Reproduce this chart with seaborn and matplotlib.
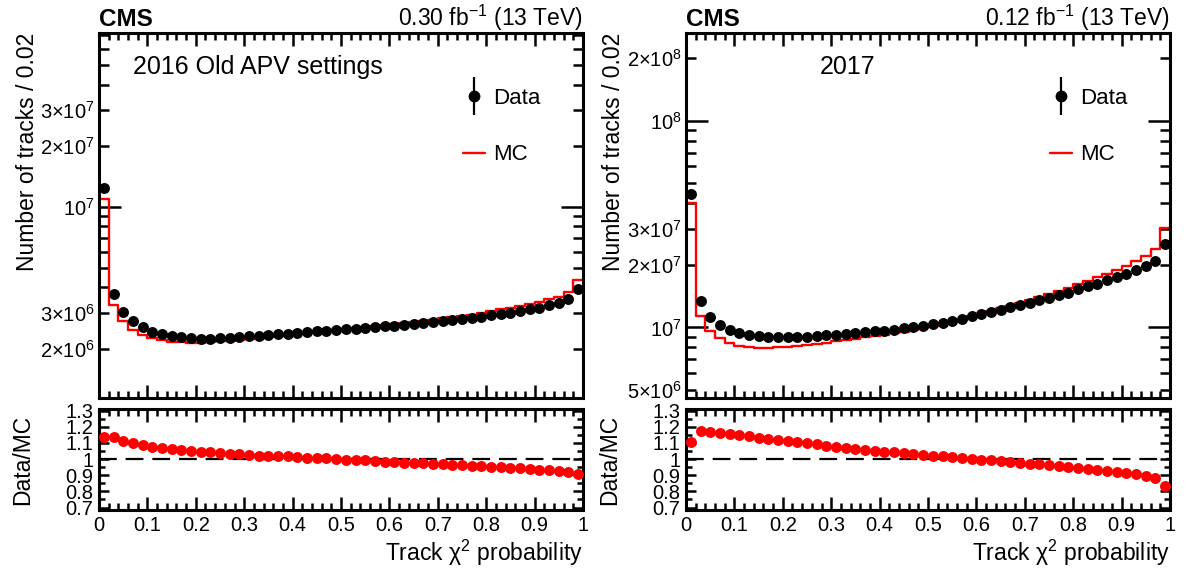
import numpy as np
import pandas as pd
import matplotlib
matplotlib.use("Agg")
import matplotlib.pyplot as plt
import seaborn as sns
from matplotlib.ticker import FixedLocator, FuncFormatter
from matplotlib.container import ErrorbarContainer
from matplotlib.legend_handler import HandlerErrorbar
from matplotlib.lines import Line2D

# 50 bins of width 0.02 in track chi2 probability
n_bins = 50
bin_width = 0.02
bin_edges = np.linspace(0.0, 1.0, n_bins + 1)
bin_centers = 0.5 * (bin_edges[:-1] + bin_edges[1:])

# 2016 old APV settings, tracks per bin (in millions)
data_2016 = [
    12.4, 3.72, 3.02, 2.72, 2.54, 2.42, 2.35, 2.30, 2.27, 2.25,
    2.24, 2.24, 2.25, 2.26, 2.28, 2.30, 2.31, 2.33, 2.35, 2.37,
    2.39, 2.41, 2.43, 2.45, 2.47, 2.49, 2.51, 2.53, 2.55, 2.57,
    2.59, 2.61, 2.64, 2.67, 2.70, 2.73, 2.76, 2.79, 2.82, 2.86,
    2.92, 2.96, 3.01, 3.06, 3.12, 3.18, 3.26, 3.35, 3.50, 3.93,
]
mc_2016 = [
    10.93, 3.28, 2.72, 2.48, 2.34, 2.25, 2.20, 2.16, 2.15, 2.14,
    2.14, 2.15, 2.17, 2.19, 2.21, 2.24, 2.26, 2.28, 2.31, 2.33,
    2.36, 2.39, 2.42, 2.44, 2.47, 2.50, 2.53, 2.55, 2.58, 2.61,
    2.64, 2.67, 2.70, 2.74, 2.78, 2.82, 2.86, 2.90, 2.94, 2.99,
    3.07, 3.12, 3.18, 3.24, 3.32, 3.40, 3.50, 3.61, 3.80, 4.34,
]

# 2017, tracks per bin (in units of 1e7)
data_2017 = [
    4.42, 1.34, 1.127, 1.028, 0.973, 0.937, 0.920, 0.905, 0.898, 0.896,
    0.897, 0.899, 0.903, 0.909, 0.916, 0.924, 0.932, 0.940, 0.948, 0.956,
    0.965, 0.976, 0.990, 1.005, 1.021, 1.038, 1.056, 1.075, 1.095, 1.137,
    1.160, 1.19, 1.22, 1.25, 1.285, 1.32, 1.355, 1.39, 1.43, 1.475,
    1.53, 1.58, 1.63, 1.69, 1.75, 1.82, 1.90, 1.99, 2.10, 2.53,
]
mc_2017 = [
    3.99, 1.139, 0.965, 0.885, 0.843, 0.817, 0.807, 0.799, 0.797, 0.801,
    0.807, 0.814, 0.822, 0.833, 0.845, 0.858, 0.870, 0.883, 0.895, 0.908,
    0.922, 0.937, 0.955, 0.974, 0.994, 1.016, 1.038, 1.062, 1.087, 1.135,
    1.163, 1.200, 1.236, 1.273, 1.315, 1.358, 1.401, 1.445, 1.494, 1.549,
    1.617, 1.681, 1.745, 1.821, 1.898, 1.989, 2.095, 2.218, 2.386, 3.03,
]

x_ticks = [0.0, 0.1, 0.2, 0.3, 0.4, 0.5, 0.6, 0.7, 0.8, 0.9, 1.0]
ratio_ticks = [0.7, 0.8, 0.9, 1.0, 1.1, 1.2, 1.3]

panels = [
    {
        "data": np.array(data_2016) * 1e6,
        "mc": np.array(mc_2016) * 1e6,
        "ylim": (1.14e6, 7.2e7),
        "major": [1e7],
        "labelled": [2e6, 3e6, 2e7, 3e7],
        "region": "2016 Old APV settings",
        "region_x": 0.07,
        "lumi": "0.30 fb$^{-1}$ (13 TeV)",
        "left": 99,
    },
    {
        "data": np.array(data_2017) * 1e7,
        "mc": np.array(mc_2017) * 1e7,
        "ylim": (4.56e6, 2.65e8),
        "major": [1e7, 1e8],
        "labelled": [5e6, 2e7, 3e7, 2e8],
        "region": "2017",
        "region_x": 0.277,
        "lumi": "0.12 fb$^{-1}$ (13 TeV)",
        "left": 686,
    },
]

sns.set_style("ticks")
plt.rcParams["font.family"] = ["Liberation Sans", "DejaVu Sans"]
plt.rcParams["mathtext.fontset"] = "custom"
plt.rcParams["mathtext.rm"] = "Liberation Sans"
plt.rcParams["mathtext.it"] = "Liberation Sans:italic"
plt.rcParams["mathtext.bf"] = "Liberation Sans:bold"
plt.rcParams["text.color"] = "black"
plt.rcParams["axes.labelcolor"] = "black"
plt.rcParams["xtick.color"] = "black"
plt.rcParams["ytick.color"] = "black"

W, H = 1186, 574
TICK_FS = 14.5


def log_label(v, pos, labelled):
    e = int(np.floor(np.log10(v) + 1e-9))
    m = v / 10 ** e
    if abs(m - 1) < 1e-6:
        return "10$^{%d}$" % e
    if any(abs(v - l) / l < 1e-6 for l in labelled):
        return "%d×10$^{%d}$" % (round(m), e)
    return ""


def style_axes(a):
    a.set_xlim(0, 1)
    a.xaxis.set_major_locator(FixedLocator(x_ticks))
    a.xaxis.set_minor_locator(FixedLocator(list(bin_edges)))
    a.xaxis.set_major_formatter(FuncFormatter(lambda v, pos: "%g" % round(v, 2)))
    a.tick_params(which="both", direction="in", top=True, right=True,
                  width=1.8, labelsize=TICK_FS, color="black", labelcolor="black")
    a.tick_params(axis="x", which="major", length=9.5, pad=4)
    a.tick_params(axis="x", which="minor", length=5)
    for s in a.spines.values():
        s.set_linewidth(2.2)
        s.set_color("black")


fig = plt.figure(figsize=(W / 100, H / 100), dpi=100)

for p in panels:
    left = p["left"] / W
    width = 484 / W
    ax = fig.add_axes([left, 1 - 398 / H, width, 365 / H])
    axr = fig.add_axes([left, 1 - 510 / H, width, 101 / H])

    df = pd.DataFrame({"x": bin_centers, "data": p["data"], "mc": p["mc"]})
    df["ratio"] = df["data"] / df["mc"]

    ax.set_yscale("log")
    sns.histplot(data=df, x="x", weights="mc", binwidth=bin_width,
                 binrange=(0.0, 1.0), element="step", fill=False,
                 color="red", linewidth=1.7, ax=ax)
    sns.scatterplot(data=df, x="x", y="data", color="black", s=62,
                    linewidth=0, zorder=3, ax=ax)
    style_axes(ax)
    ax.set_ylim(*p["ylim"])
    ax.yaxis.set_major_locator(FixedLocator(p["major"]))
    minors = [m * 10.0 ** e for e in range(6, 9) for m in range(2, 10)]
    ax.yaxis.set_minor_locator(FixedLocator(minors))
    lab = p["labelled"]
    ax.yaxis.set_major_formatter(FuncFormatter(lambda v, pos, lab=lab: log_label(v, pos, lab)))
    ax.yaxis.set_minor_formatter(FuncFormatter(lambda v, pos, lab=lab: log_label(v, pos, lab)))
    ax.tick_params(axis="y", which="major", length=16, pad=3)
    ax.tick_params(axis="y", which="minor", length=7.5, pad=3)
    ax.tick_params(axis="x", labelbottom=False)
    ax.set_xlabel("")
    ax.set_ylabel("Number of tracks / 0.02", fontsize=16.5, loc="top")
    ax.yaxis.set_label_coords(-0.125, 1.0)

    ax.text(0, 1.019, "CMS", transform=ax.transAxes, fontsize=17.5,
            fontweight="bold", va="baseline", ha="left")
    ax.text(1, 1.019, p["lumi"], transform=ax.transAxes, fontsize=16.5,
            va="baseline", ha="right")
    ax.text(p["region_x"], 0.888, p["region"], transform=ax.transAxes,
            fontsize=18, va="baseline", ha="left")

    eb = ax.errorbar([np.nan], [np.nan], yerr=[1.0], fmt="o", color="black",
                     ms=7.5, elinewidth=1.6, capsize=0)
    mc_line = Line2D([], [], color="red", lw=1.7)
    ax.legend(handles=[eb, mc_line], labels=["Data", "MC"],
              handler_map={ErrorbarContainer: HandlerErrorbar(xerr_size=0.85)},
              frameon=False, loc="upper left", bbox_to_anchor=(0.752, 0.85),
              labelspacing=1.6, handlelength=1.0, handletextpad=0.35,
              borderpad=0, borderaxespad=0, fontsize=16)

    # ratio panel
    axr.axhline(1.0, color="black", lw=1.6, ls=(0, (8, 4)), zorder=1)
    sns.scatterplot(data=df, x="x", y="ratio", color="red", s=62,
                    linewidth=0, zorder=3, ax=axr)
    style_axes(axr)
    axr.set_ylim(0.685, 1.31)
    axr.yaxis.set_major_locator(FixedLocator(ratio_ticks))
    axr.yaxis.set_minor_locator(FixedLocator([0.75, 0.85, 0.95, 1.05, 1.15, 1.25]))
    axr.yaxis.set_major_formatter(FuncFormatter(lambda v, pos: "%g" % round(v, 2)))
    axr.tick_params(axis="y", which="major", length=7, pad=4)
    axr.tick_params(axis="y", which="minor", length=4)
    axr.set_ylabel("Data/MC", fontsize=16.5)
    axr.yaxis.set_label_coords(-0.135, 0.5)
    axr.set_xlabel("Track χ$^{2}$ probability", fontsize=16.5, loc="right")
    axr.xaxis.set_label_coords(1.0, -0.28)

fig.savefig("out.png", dpi=100)
